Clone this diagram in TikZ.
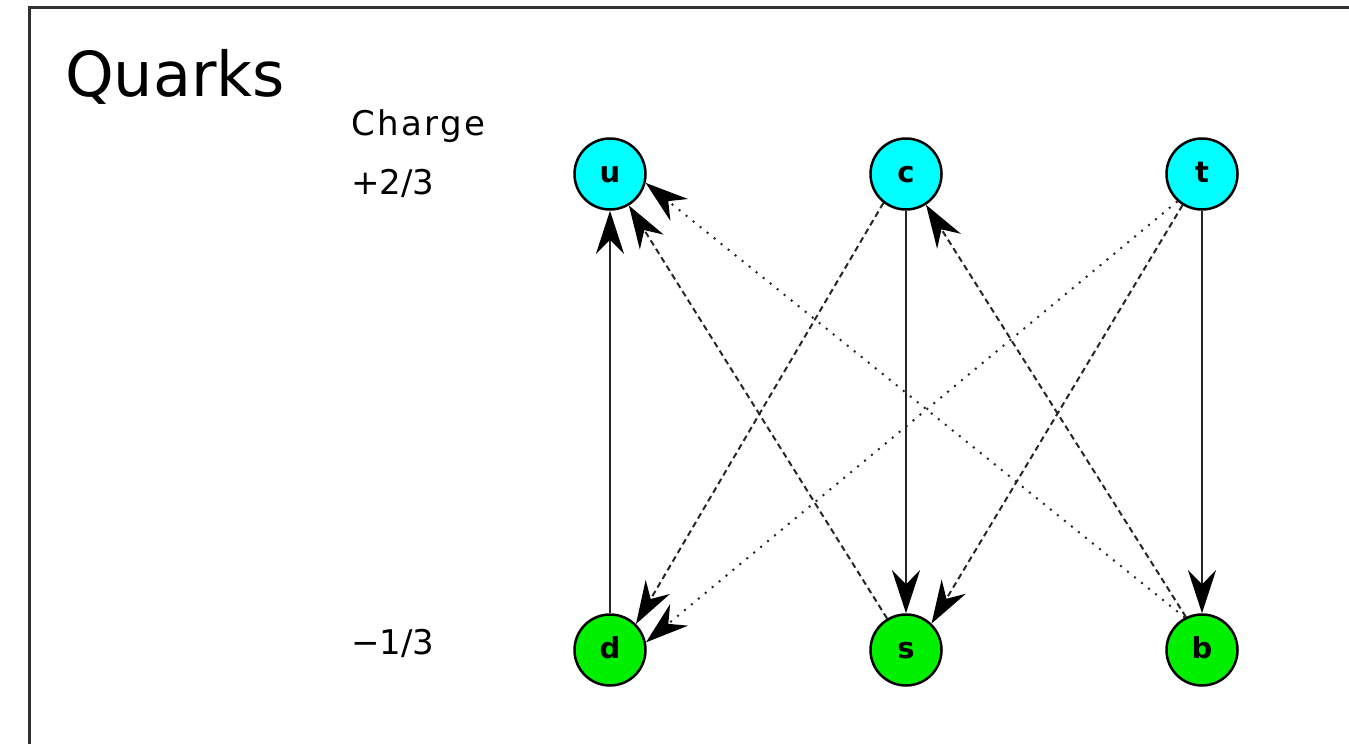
\documentclass[tikz,border=0pt]{standalone}
\usepackage{fontspec}
\setmainfont{DejaVu Sans}
\usetikzlibrary{arrows.meta}
\definecolor{upq}{HTML}{00FFFF}
\definecolor{downq}{HTML}{00F000}
\definecolor{ink}{HTML}{262626}
\definecolor{frameink}{HTML}{303030}

\begin{document}
\begin{tikzpicture}[x=1pt,y=-1pt,
  quark/.style={circle, draw=black, line width=2.5pt, minimum size=71pt,
    inner sep=0pt, text height=16pt, text depth=0pt,
    font=\fontsize{29}{29}\selectfont\bfseries},
  upquark/.style={quark, fill=upq},
  downquark/.style={quark, fill=downq},
  link/.style={draw=ink, line width=2pt,
    -{Stealth[length=43pt,width=28pt,inset=14pt,color=black]}},
  dashlink/.style={link, dash pattern=on 6pt off 4pt},
  dotlink/.style={link, dash pattern=on 2pt off 7pt},
  label/.style={anchor=base west, inner sep=0pt, font=\fontsize{34}{34}\selectfont},
]
\useasboundingbox (0,0) rectangle (1349,744);
\clip (0,0) rectangle (1349,744);

% frame
\draw[frameink, line width=3pt] (29,760) -- (29,7.5) -- (1360,7.5);

% headings
\node[anchor=base west, inner sep=0pt, font=\fontsize{62}{62}\selectfont] (title) at (65,96) {Quarks};
\node[label] (charge) at (351,135) {\addfontfeature{LetterSpace=7}Charge};
\node[label] (plus) at (351,194) {+2/3};
\node[label] (minus) at (351,654) {−1/3};

% quarks
\node[upquark] (u) at (610,174) {u};
\node[upquark] (c) at (906,174) {c};
\node[upquark] (t) at (1202,174) {t};
\node[downquark] (d) at (610,650) {d};
\node[downquark] (s) at (906,650) {s};
\node[downquark] (b) at (1202,650) {b};

% transitions
\draw[link] (d) -- (u);
\draw[link] (c) -- (s);
\draw[link] (t) -- (b);
\draw[dashlink] (s.121) -- (u.-59);
\draw[dotlink] (b.118) -- (u.-14);
\draw[dashlink] (c.-128) -- (d.45);
\draw[dotlink] (t.-132) -- (d.12);
\draw[dashlink] (t.-122) -- (s.46);
\draw[dashlink] (b.116) -- (c.-57);
\end{tikzpicture}
\end{document}
